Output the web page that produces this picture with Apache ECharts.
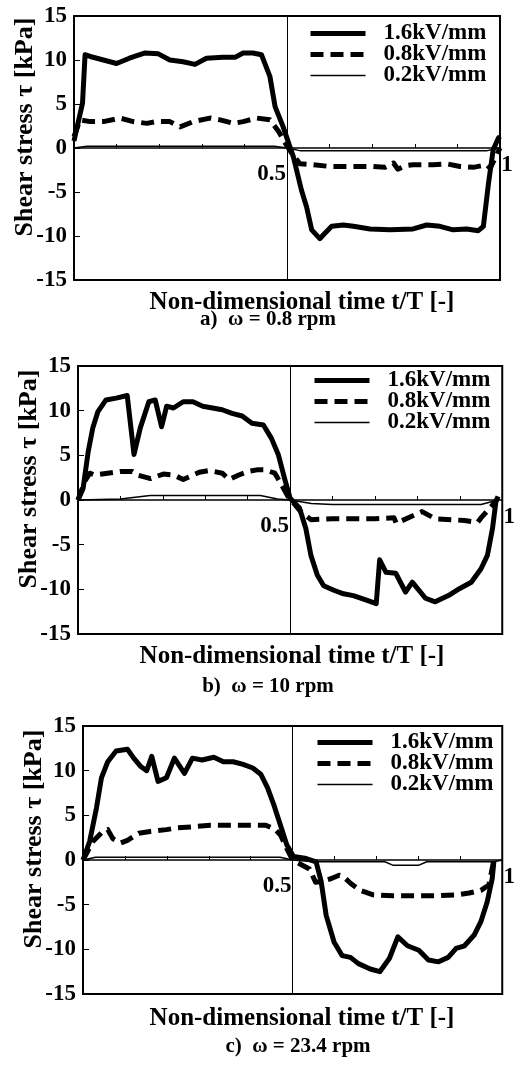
<!DOCTYPE html>
<html>
<head>
<meta charset="utf-8">
<title>Shear stress vs non-dimensional time</title>
<script src="https://cdn.jsdelivr.net/npm/echarts@6.0.0/dist/echarts.min.js"></script>
<style>
  html, body { margin: 0; padding: 0; background: #fff; }
  #chart { width: 518px; height: 1066px; }
</style>
</head>
<body>
<div id="chart"></div>
<script>
// legend names (field strength)
const fieldNames = ['1.6kV/mm', '0.8kV/mm', '0.2kV/mm']
const captions = ['a)  ω = 0.8 rpm', 'b)  ω = 10 rpm', 'c)  ω = 23.4 rpm']
const xTitle = 'Non-dimensional time t/T [-]'
const yTitle = 'Shear stress τ [kPa]'

// axis ticks
const yMin = -15
const yMax = 15
const yStep = 5
const xStep = 0.1
const xLabels = [0.5, 1]

// a) 0.8 rpm  [t/T, kPa]
const aHigh = [[0, 0.8], [0.02, 5.1], [0.026, 10.6], [0.038, 10.4], [0.069, 10.0], [0.1, 9.6], [0.13, 10.2], [0.167, 10.8], [0.198, 10.7], [0.225, 10.0], [0.256, 9.8], [0.284, 9.5], [0.311, 10.2], [0.35, 10.3], [0.378, 10.3], [0.397, 10.8], [0.42, 10.8], [0.44, 10.6], [0.46, 8.1], [0.472, 4.7], [0.491, 2.4], [0.507, 0.1], [0.515, -1.0], [0.534, -4.8], [0.546, -6.7], [0.558, -9.3], [0.577, -10.3], [0.589, -9.7], [0.605, -8.9], [0.632, -8.75], [0.656, -8.9], [0.695, -9.2], [0.742, -9.3], [0.796, -9.2], [0.828, -8.75], [0.859, -8.9], [0.89, -9.3], [0.922, -9.2], [0.949, -9.4], [0.961, -8.9], [0.973, -4.0], [0.984, -0.2], [0.996, 1.1], [1, 1.3]]
const aMid = [[0, 1.3], [0.014, 3.2], [0.038, 3.0], [0.069, 3.0], [0.108, 3.4], [0.139, 3.0], [0.171, 2.8], [0.194, 3.0], [0.225, 3.0], [0.249, 2.4], [0.28, 3.0], [0.319, 3.4], [0.343, 3.2], [0.374, 2.8], [0.397, 3.0], [0.429, 3.4], [0.46, 3.2], [0.48, 1.9], [0.499, 0.3], [0.51, -0.5], [0.53, -1.8], [0.562, -1.9], [0.6, -2.1], [0.65, -2.1], [0.7, -2.1], [0.73, -2.2], [0.75, -1.7], [0.76, -2.4], [0.78, -2.0], [0.796, -1.9], [0.843, -1.9], [0.875, -1.8], [0.906, -2.1], [0.937, -2.2], [0.969, -1.9], [0.977, -2.3], [1, 0]]
const aLow = [[0, 0], [0.03, 0.2], [0.47, 0.2], [0.5, 0], [0.53, -0.3], [0.97, -0.3], [1, 0]]

// b) 10 rpm
const bHigh = [[0, 0], [0.012, 1.3], [0.024, 5.4], [0.035, 8.1], [0.047, 9.9], [0.066, 11.2], [0.09, 11.4], [0.116, 11.7], [0.132, 5.1], [0.147, 8.1], [0.167, 11.0], [0.182, 11.2], [0.197, 8.2], [0.209, 10.5], [0.225, 10.3], [0.248, 11.0], [0.271, 11.0], [0.294, 10.5], [0.317, 10.3], [0.34, 10.1], [0.363, 9.7], [0.387, 9.4], [0.41, 8.6], [0.437, 8.4], [0.456, 6.9], [0.472, 5.1], [0.487, 2.4], [0.5, 0.2], [0.522, -0.9], [0.537, -3.2], [0.549, -6.2], [0.564, -8.4], [0.579, -9.6], [0.603, -10.1], [0.626, -10.5], [0.649, -10.7], [0.68, -11.2], [0.703, -11.6], [0.711, -6.7], [0.726, -8.1], [0.749, -8.2], [0.772, -10.3], [0.788, -9.2], [0.819, -11.0], [0.842, -11.4], [0.873, -10.7], [0.9, -9.9], [0.927, -9.2], [0.95, -7.7], [0.965, -6.2], [0.977, -3.2], [0.985, -0.2], [0.99, 0.4]]
const bMid = [[0, 0], [0.016, 2.1], [0.028, 3.0], [0.039, 2.8], [0.07, 3.0], [0.1, 3.2], [0.128, 3.2], [0.14, 2.8], [0.171, 2.4], [0.201, 2.9], [0.225, 2.8], [0.248, 2.3], [0.286, 3.1], [0.309, 3.3], [0.34, 3.0], [0.356, 2.3], [0.379, 2.8], [0.402, 3.2], [0.425, 3.4], [0.44, 3.4], [0.464, 3.0], [0.475, 2.1], [0.495, 0.4], [0.525, -1.3], [0.549, -2.2], [0.6, -2.1], [0.65, -2.1], [0.7, -2.1], [0.745, -2.0], [0.75, -2.6], [0.788, -1.8], [0.811, -1.3], [0.842, -2.1], [0.88, -2.2], [0.911, -2.3], [0.942, -2.5], [0.95, -2.0], [0.973, -0.8], [0.99, 0.2]]
const bLow = [[0, 0], [0.1, 0.1], [0.17, 0.5], [0.43, 0.5], [0.47, 0.1], [0.5, 0], [0.55, -0.4], [0.6, -0.5], [0.95, -0.5], [0.99, 0]]

// c) 23.4 rpm
const cHigh = [[0, 0], [0.016, 2.1], [0.032, 5.8], [0.044, 9.2], [0.059, 11.0], [0.079, 12.2], [0.106, 12.4], [0.121, 11.4], [0.137, 10.5], [0.152, 10.0], [0.164, 11.6], [0.179, 8.8], [0.199, 9.2], [0.218, 11.4], [0.242, 9.7], [0.261, 11.4], [0.284, 11.2], [0.312, 11.5], [0.335, 11.0], [0.358, 11.0], [0.382, 10.7], [0.405, 10.3], [0.424, 9.6], [0.44, 8.1], [0.455, 6.2], [0.471, 3.9], [0.486, 1.7], [0.502, 0.4], [0.529, 0.2], [0.556, -0.2], [0.568, -2.4], [0.58, -6.2], [0.599, -9.2], [0.618, -10.7], [0.638, -10.9], [0.657, -11.6], [0.685, -12.2], [0.708, -12.5], [0.731, -11.0], [0.751, -8.6], [0.774, -9.6], [0.801, -10.1], [0.824, -11.2], [0.848, -11.4], [0.871, -10.9], [0.89, -9.9], [0.91, -9.6], [0.933, -8.4], [0.949, -6.9], [0.964, -4.7], [0.976, -2.1], [0.98, -0.2]]
const cMid = [[0, 0], [0.024, 2.1], [0.047, 3.2], [0.059, 3.4], [0.071, 2.4], [0.09, 1.9], [0.106, 2.2], [0.133, 3.0], [0.16, 3.2], [0.199, 3.4], [0.226, 3.6], [0.257, 3.7], [0.304, 3.9], [0.358, 3.9], [0.405, 3.9], [0.436, 3.9], [0.459, 3.4], [0.471, 2.8], [0.49, 0.9], [0.5, 0], [0.54, -1.0], [0.555, -2.5], [0.568, -2.4], [0.591, -2.1], [0.611, -1.7], [0.622, -1.9], [0.638, -2.6], [0.661, -3.4], [0.692, -3.9], [0.739, -4.0], [0.793, -4.0], [0.848, -4.0], [0.894, -3.9], [0.921, -3.7], [0.949, -3.4], [0.968, -2.8], [0.98, 0]]
const cLow = [[0, 0], [0.03, 0.3], [0.47, 0.3], [0.5, 0], [0.55, -0.2], [0.72, -0.2], [0.74, -0.6], [0.8, -0.6], [0.82, -0.2], [0.98, -0.2], [1, 0]]

const panels = [
  [aHigh, aMid, aLow],
  [bHigh, bMid, bLow],
  [cHigh, cMid, cLow]
]

// layout of the three stacked plots
const grids = [
  { left: 74, top: 16, width: 426, height: 264 },
  { left: 78, top: 366, width: 432, height: 268 },
  { left: 83, top: 726, width: 429, height: 268 }
]
const legendPos = [{ left: 308, top: 22 }, { left: 312, top: 369 }, { left: 315, top: 731 }]
const xTitlePos = [{ left: 302, top: 290 }, { left: 292, top: 644 }, { left: 302, top: 1006 }]
const captionPos = [{ left: 268, top: 309 }, { left: 268, top: 676 }, { left: 298, top: 1036 }]

const font = '"Liberation Serif", "Times New Roman", serif'
const lineStyles = [
  { width: 5, type: 'solid' },
  { width: 5, type: [13, 7] },
  { width: 1.5, type: 'solid' }
]

const chart = echarts.init(document.getElementById('chart'), null, { renderer: 'canvas' })

// the time axis sits on tau = 0, which is the middle of the symmetric range
const xAxis = grids.map((g, i) => ({
  type: 'value',
  gridIndex: i,
  position: 'bottom',
  offset: -g.height / 2,
  min: 0,
  max: 1,
  interval: xStep,
  axisLine: { onZero: false, lineStyle: { color: '#000', width: 1.5 } },
  axisTick: { inside: true, length: 4, lineStyle: { color: '#000', width: 1 } },
  splitLine: { show: false },
  axisLabel: {
    margin: 4,
    showMinLabel: true,
    showMaxLabel: true,
    formatter: v => {
      if (Math.abs(v - xLabels[0]) < 1e-6) return '{a|0.5}'
      if (Math.abs(v - xLabels[1]) < 1e-6) return '{b|1}'
      return ''
    },
    rich: {
      a: { fontFamily: font, fontWeight: 'bold', fontSize: 23, color: '#000', padding: [11, 31, 0, 0] },
      b: { fontFamily: font, fontWeight: 'bold', fontSize: 23, color: '#000', padding: [2, 0, 0, 14] }
    }
  }
}))

const yAxis = grids.map((g, i) => ({
  type: 'value',
  gridIndex: i,
  min: yMin,
  max: yMax,
  interval: yStep,
  name: yTitle,
  nameLocation: 'middle',
  nameRotate: 90,
  nameGap: 36,
  nameMoveOverlap: false,
  nameTextStyle: { fontFamily: font, fontWeight: 'bold', fontSize: 26, color: '#000', padding: [0, 0, 0, 42] },
  axisLine: { show: false },
  axisTick: { inside: true, length: 6, lineStyle: { color: '#000', width: 1 } },
  splitLine: { show: false },
  axisLabel: { margin: 7, fontFamily: font, fontWeight: 'bold', fontSize: 23, color: '#000' }
}))

const series = []
panels.forEach((sets, i) => {
  sets.forEach((data, j) => {
    const s = {
      name: fieldNames[j],
      type: 'line',
      xAxisIndex: i,
      yAxisIndex: i,
      data: data,
      symbol: 'none',
      color: '#000',
      lineStyle: Object.assign({ color: '#000', join: 'round' }, lineStyles[j]),
      z: 3 - j
    }
    if (j === 0) {
      // half-period marker
      s.markLine = {
        silent: true,
        symbol: 'none',
        label: { show: false },
        lineStyle: { color: '#000', width: 1, type: 'solid' },
        data: [{ xAxis: 0.5 }]
      }
    }
    series.push(s)
  })
})

const titles = []
xTitlePos.forEach((p, i) => {
  titles.push({
    text: xTitle, left: p.left, top: p.top, textAlign: 'center', padding: 0,
    textStyle: { fontFamily: font, fontWeight: 'bold', fontSize: 25, color: '#000' }
  })
  titles.push({
    text: captions[i], left: captionPos[i].left, top: captionPos[i].top, textAlign: 'center', padding: 0,
    textStyle: { fontFamily: font, fontWeight: 'bold', fontSize: 21, color: '#000' }
  })
})

chart.setOption({
  animation: false,
  backgroundColor: '#fff',
  title: titles,
  legend: legendPos.map(p => ({
    data: fieldNames.map((n, j) => ({
      name: n,
      lineStyle: { color: '#000', width: lineStyles[j].width, type: lineStyles[j].type }
    })),
    left: p.left,
    top: p.top,
    orient: 'vertical',
    selectedMode: false,
    itemWidth: 55,
    itemHeight: 14,
    itemGap: -2,
    padding: 0,
    itemStyle: { color: 'rgba(0,0,0,0)', borderWidth: 0, opacity: 0 },
    textStyle: { fontFamily: font, fontWeight: 'bold', fontSize: 23, color: '#000', lineHeight: 17, padding: [0, 0, 0, 13] }
  })),
  grid: grids.map(g => Object.assign({ show: true, borderColor: '#000', borderWidth: 2, containLabel: false }, g)),
  xAxis: xAxis,
  yAxis: yAxis,
  series: series
})
</script>
</body>
</html>
